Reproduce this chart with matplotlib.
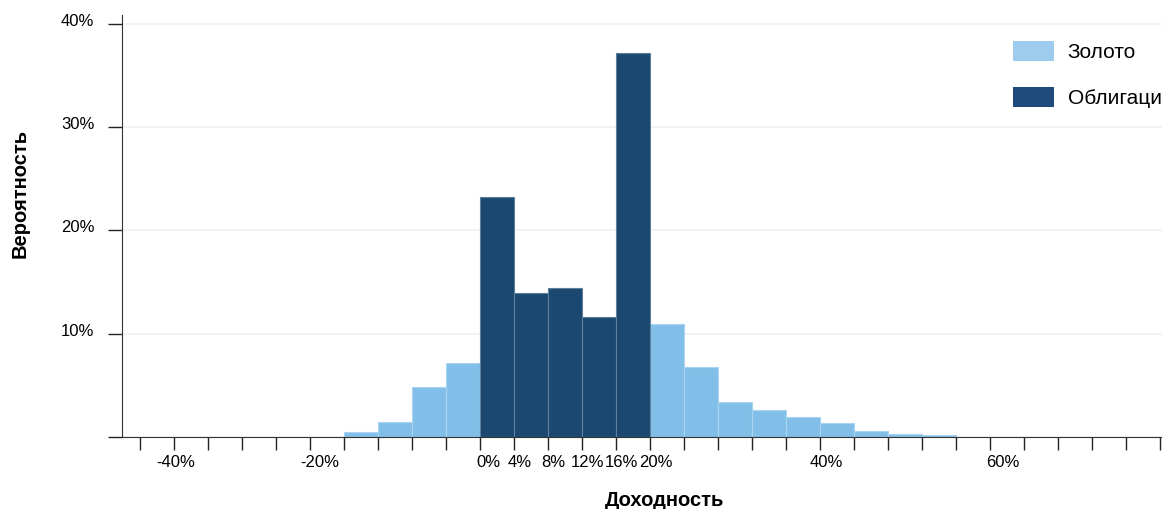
import matplotlib
matplotlib.use("Agg")
import matplotlib.pyplot as plt
import matplotlib.transforms as mtransforms
from matplotlib.patches import Patch
import numpy as np

# histogram data (bin left edge in %, probability in %)
gold_bins = [-16, -12, -8, -4, 20, 24, 28, 32, 36, 40, 44, 48, 52]
gold_vals = [0.48, 1.48, 4.87, 7.13, 10.9, 6.75, 3.36, 2.61, 1.94, 1.35, 0.61, 0.29, 0.16]
bond_bins = [0, 4, 8, 12, 16]
bond_vals = [23.26, 13.97, 14.39, 11.58, 37.17]
bin_width = 4

# x tick labels as they sit in the chart
xlab_pos = [-35.8, -18.8, 1.0, 4.7, 8.6, 12.7, 16.7, 20.7, 40.8, 61.5]
xlab_txt = ["-40%", "-20%", "0%", "4%", "8%", "12%", "16%", "20%", "40%", "60%"]
ytick_pos = [0, 10, 20, 30, 40]
ytick_txt = ["", "10%", "20%", "30%", "40%"]

gold_color = "#82bfe8"
bond_color = "#1b4870"

plt.rcParams["font.family"] = ["Liberation Sans", "DejaVu Sans"]

W, H = 1162, 509
fig = plt.figure(figsize=(W / 100, H / 100), dpi=100)
ax = fig.add_axes([122 / W, 1 - 437 / H, (W - 122) / W, (437 - 15) / H])

ax.bar(gold_bins, gold_vals, width=bin_width, align="edge", color=gold_color,
       edgecolor="#a9d4f2", linewidth=0.8, label="Золото", zorder=2)
ax.bar(bond_bins, bond_vals, width=bin_width, align="edge", color=bond_color,
       edgecolor="#5f7f9e", linewidth=0.8, label="Облигации", zorder=3)

ax.set_xlim(-42.1, 80.25)
ax.set_ylim(0, 40.85)

# tick marks every 4%, labels placed separately
ax.set_xticks(np.arange(-40, 81, 4), minor=True)
ax.set_xticks(xlab_pos)
ax.set_xticklabels(xlab_txt, fontsize=12)
ax.tick_params(axis="x", which="minor", length=9, width=1, color="#222222")
ax.tick_params(axis="x", which="major", length=0, pad=13)

ax.set_yticks(ytick_pos)
ax.set_yticklabels(ytick_txt, fontsize=12)
ax.tick_params(axis="y", length=10, width=1, color="#222222", pad=10)
# labels sit a little above their tick in the original
shift = mtransforms.ScaledTranslation(0, 4 / 100, fig.dpi_scale_trans)
for lab in ax.get_yticklabels():
    lab.set_transform(lab.get_transform() + shift)
ax.grid(axis="y", color="#eef2f6", linewidth=1.2, zorder=0)
ax.set_axisbelow(True)

for s in ["top", "right"]:
    ax.spines[s].set_visible(False)
ax.spines["left"].set_color("#333333")
ax.spines["bottom"].set_color("#333333")

fig.text(665 / W, 1 - 501 / H, "Доходность", ha="center", va="center",
         fontsize=14.5, fontweight="bold")
fig.text(20 / W, 1 - 193 / H, "Вероятность", ha="center", va="center",
         rotation=90, fontsize=14.5, fontweight="bold")

handles = [Patch(facecolor="#9dccee", edgecolor="none"),
           Patch(facecolor="#1f4a7c", edgecolor="none")]
fig.legend(handles, ["Золото", "Облигации"], loc="upper left",
           bbox_to_anchor=(1013 / W, 1 - 41 / H), frameon=False, fontsize=15,
           handlelength=1.97, handleheight=1.1, handletextpad=0.65,
           labelspacing=1.2, borderpad=0, borderaxespad=0)

fig.savefig("out.png", dpi=100)
